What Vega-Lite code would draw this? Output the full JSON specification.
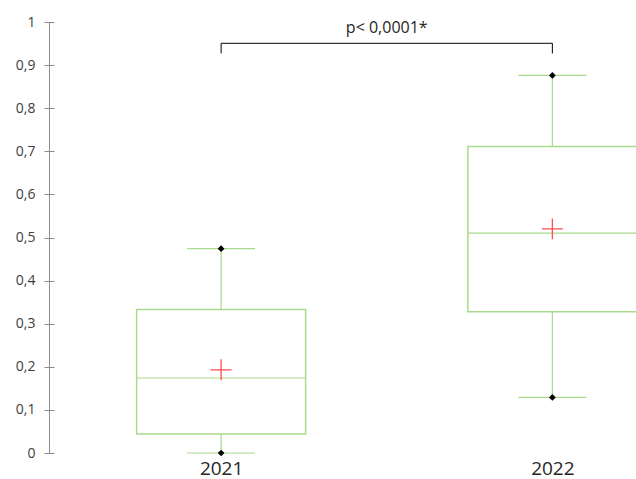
{
  "$schema": "https://vega.github.io/schema/vega-lite/v6.json",
  "width": 587,
  "height": 431,
  "autosize": "none",
  "padding": {"left": 49, "top": 22, "right": 0, "bottom": 26},
  "background": "white",
  "config": {"view": {"stroke": null}, "font": "Open Sans"},
  "datasets": {
    "boxes": [
      {"year": 2021, "min": 0.0, "q1": 0.044, "median": 0.174, "q3": 0.333, "max": 0.474, "mean": 0.193},
      {"year": 2022, "min": 0.129, "q1": 0.328, "median": 0.510, "q3": 0.711, "max": 0.876, "mean": 0.520}
    ],
    "bracket": [
      {"x": 2021, "x2": 2022, "y": 0.9506, "ylow": 0.927, "label": "p< 0,0001*", "ytext": 0.985, "xmid": 2021.5}
    ]
  },
  "encoding": {
    "x": {
      "field": "year",
      "type": "quantitative",
      "scale": {"domain": [2020.4955, 2022.2374], "nice": false, "zero": false},
      "axis": {"values": [2021, 2022], "format": "d", "domain": false, "ticks": false, "grid": false, "title": null, "labelFontSize": 19, "labelColor": "#262626", "labelPadding": 6, "labelFont": "Open Sans"}
    }
  },
  "layer": [
    {
      "data": {"name": "boxes"},
      "mark": {"type": "rule", "color": "#a9d98a", "strokeWidth": 1.2},
      "encoding": {
        "y": {"field": "min", "type": "quantitative", "scale": {"domain": [0, 1], "nice": false}, "axis": {"values": [0, 0.1, 0.2, 0.3, 0.4, 0.5, 0.6, 0.7, 0.8, 0.9, 1], "labelExpr": "replace(format(datum.value, '.1~f'), '.', ',')", "grid": false, "title": null, "domain": false, "offset": -5, "tickSize": 10, "tickColor": "#8c8c8c", "labelFontSize": 14, "labelColor": "#404040", "labelPadding": 9, "orient": "left"}},
        "y2": {"field": "max"}
      }
    },
    {
      "data": {"name": "boxes"},
      "mark": {"type": "bar", "size": 169, "fill": "white", "stroke": "#a9d98a", "strokeWidth": 1.5, "clip": true},
      "encoding": {
        "y": {"field": "q1", "type": "quantitative", "axis": {"labels": false, "ticks": false, "domain": true, "domainColor": "#8c8c8c", "grid": false, "title": null, "orient": "left"}},
        "y2": {"field": "q3"}
      }
    },
    {
      "data": {"name": "boxes"},
      "mark": {"type": "tick", "orient": "horizontal", "size": 169, "color": "#a9d98a", "thickness": 1.2, "opacity": 1, "clip": true},
      "encoding": {"y": {"field": "median", "type": "quantitative", "axis": null}}
    },
    {
      "data": {"name": "boxes"},
      "mark": {"type": "tick", "orient": "horizontal", "size": 68, "color": "#a9d98a", "thickness": 1.2, "opacity": 1},
      "encoding": {"y": {"field": "min", "type": "quantitative", "axis": null}}
    },
    {
      "data": {"name": "boxes"},
      "mark": {"type": "tick", "orient": "horizontal", "size": 68, "color": "#a9d98a", "thickness": 1.2, "opacity": 1},
      "encoding": {"y": {"field": "max", "type": "quantitative", "axis": null}}
    },
    {
      "data": {"name": "boxes"},
      "mark": {"type": "point", "shape": "diamond", "filled": true, "color": "black", "size": 45, "opacity": 1},
      "encoding": {"y": {"field": "min", "type": "quantitative", "axis": null}}
    },
    {
      "data": {"name": "boxes"},
      "mark": {"type": "point", "shape": "diamond", "filled": true, "color": "black", "size": 45, "opacity": 1},
      "encoding": {"y": {"field": "max", "type": "quantitative", "axis": null}}
    },
    {
      "data": {"name": "boxes"},
      "mark": {"type": "point", "shape": "M-1,0L1,0M0,-1L0,1", "filled": false, "stroke": "#ff4d4d", "strokeWidth": 1.3, "size": 440, "opacity": 1},
      "encoding": {"y": {"field": "mean", "type": "quantitative", "axis": null}}
    },
    {
      "data": {"name": "bracket"},
      "mark": {"type": "rule", "color": "#000000", "strokeWidth": 1},
      "encoding": {
        "x": {"field": "x", "type": "quantitative"},
        "x2": {"field": "x2"},
        "y": {"field": "y", "type": "quantitative", "axis": null}
      }
    },
    {
      "data": {"name": "bracket"},
      "mark": {"type": "rule", "color": "#000000", "strokeWidth": 1},
      "encoding": {
        "x": {"field": "x", "type": "quantitative"},
        "y": {"field": "y", "type": "quantitative", "axis": null},
        "y2": {"field": "ylow"}
      }
    },
    {
      "data": {"name": "bracket"},
      "mark": {"type": "rule", "color": "#000000", "strokeWidth": 1},
      "encoding": {
        "x": {"field": "x2", "type": "quantitative"},
        "y": {"field": "y", "type": "quantitative", "axis": null},
        "y2": {"field": "ylow"}
      }
    },
    {
      "data": {"name": "bracket"},
      "mark": {"type": "text", "fontSize": 16, "color": "#262626", "font": "Open Sans"},
      "encoding": {
        "x": {"field": "xmid", "type": "quantitative"},
        "y": {"field": "ytext", "type": "quantitative", "axis": null},
        "text": {"field": "label"}
      }
    }
  ],
  "resolve": {"axis": {"y": "independent"}}
}
